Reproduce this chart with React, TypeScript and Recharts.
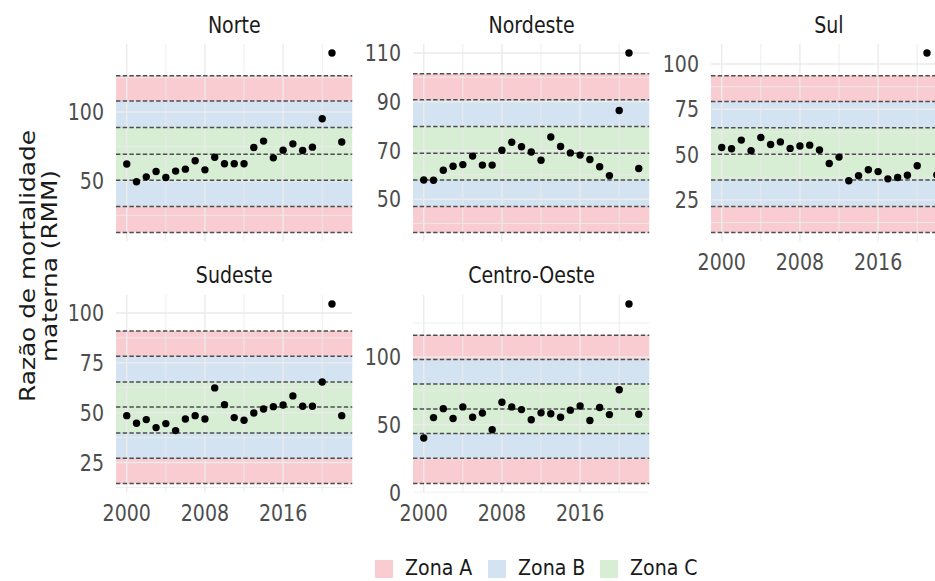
import React from 'react';
import { ScatterChart, Scatter, XAxis, YAxis, ReferenceArea, ReferenceLine } from 'recharts';

// ---------- data ----------
const years = [2000, 2001, 2002, 2003, 2004, 2005, 2006, 2007, 2008, 2009, 2010, 2011, 2012, 2013, 2014, 2015, 2016, 2017, 2018, 2019, 2020, 2021, 2022];

const norteRMM = [62.2, 49.3, 52.9, 56.8, 52.4, 57.1, 58.5, 64.6, 58.0, 67.2, 62.4, 62.4, 62.4, 74.2, 78.9, 66.7, 72.3, 76.9, 72.1, 74.5, 95.1, 142.9, 78.2];
const nordesteRMM = [57.9, 57.8, 61.9, 63.5, 64.2, 67.7, 64.0, 64.0, 70.1, 73.4, 71.5, 69.4, 66.0, 75.5, 71.6, 69.0, 68.1, 66.3, 63.3, 59.7, 86.4, 110.0, 62.6];
const sulRMM = [53.9, 53.2, 58.0, 52.1, 59.4, 55.6, 57.0, 53.4, 54.7, 55.2, 52.5, 45.1, 48.6, 35.5, 38.3, 41.6, 40.6, 36.6, 37.3, 38.6, 43.8, 106.1, 38.8];
const sudesteRMM = [48.5, 44.7, 46.5, 42.5, 44.5, 41.0, 46.8, 48.5, 46.8, 62.4, 54.0, 47.5, 46.2, 49.8, 51.8, 53.0, 53.8, 58.4, 53.2, 53.2, 65.4, 104.5, 48.5];
const centroOesteRMM = [40.3, 55.3, 61.9, 54.6, 63.2, 55.6, 58.6, 46.3, 66.6, 63.2, 61.2, 53.7, 58.8, 58.1, 55.6, 60.8, 63.9, 53.1, 62.7, 57.5, 75.8, 139.1, 57.8];

// control limits (mean -3sd ... mean +3sd)
const norteLimits = [12.4, 31.3, 50.5, 69.4, 88.8, 108.0, 126.4];
const nordesteLimits = [36.3, 47.0, 57.9, 68.9, 79.8, 90.8, 101.5];
const sulLimits = [6.9, 21.3, 35.9, 50.2, 64.8, 79.3, 93.5];
const sudesteLimits = [14.4, 27.1, 39.8, 52.8, 65.4, 78.3, 91.0];
const centroOesteLimits = [6.6, 25.3, 43.6, 61.7, 80.0, 98.1, 116.1];

const xMajorTicks = [2000, 2008, 2016];
const xMinorTicks = [2004, 2012, 2020];

const norteYMajor = [50, 100];
const norteYMinor = [25, 75, 125];
const nordesteYMajor = [50, 70, 90, 110];
const nordesteYMinor = [40, 60, 80, 100];
const sulYMajor = [25, 50, 75, 100];
const sulYMinor = [12.5, 37.5, 62.5, 87.5];
const sudesteYMajor = [25, 50, 75, 100];
const sudesteYMinor = [12.5, 37.5, 62.5, 87.5];
const centroOesteYMajor = [0, 50, 100];
const centroOesteYMinor = [25, 75, 125];

const regionNames = ['Norte', 'Nordeste', 'Sul', 'Sudeste', 'Centro-Oeste'];
const zoneLabels = ['Zona A', 'Zona B', 'Zona C'];
const yTitleLines = ['Razão de mortalidade', 'materna (RMM)'];

// ---------- style ----------
const FONT = '"DejaVu Sans", sans-serif';
const SY = 1.18;
const PW = 236.5;
const PH = 197.6;
const YW = 60;
const TOP = 10;
const XH = 40;
const RM = 4;
const zoneColors = ['#E33347', '#538FC7', '#5FB753'];
const ZONE_OPACITY = 0.25;

const panelPos = [
  { left: 116, top: 44.3, showX: false },
  { left: 413.3, top: 44.3, showX: false },
  { left: 710.7, top: 44.3, showX: true },
  { left: 116, top: 294.6, showX: true },
  { left: 413.3, top: 294.6, showX: true },
];

const panelData = [
  { values: norteRMM, limits: norteLimits, yMajor: norteYMajor, yMinor: norteYMinor },
  { values: nordesteRMM, limits: nordesteLimits, yMajor: nordesteYMajor, yMinor: nordesteYMinor },
  { values: sulRMM, limits: sulLimits, yMajor: sulYMajor, yMinor: sulYMinor },
  { values: sudesteRMM, limits: sudesteLimits, yMajor: sudesteYMajor, yMinor: sudesteYMinor },
  { values: centroOesteRMM, limits: centroOesteLimits, yMajor: centroOesteYMajor, yMinor: centroOesteYMinor },
];

const Dot = (p: any) => <circle cx={p.cx} cy={p.cy} r={3.7} fill="#000" />;

function Panel({ values, limits, yMajor, yMinor, left, top, showX }: any) {
  const data = years.map((yr, i) => ({ x: yr, y: values[i] }));
  const all = [...values, ...limits];
  const mn = Math.min(...all);
  const mx = Math.max(...all);
  const pad = 0.05 * (mx - mn);
  const yDomain = [mn - pad, mx + pad];
  const x0 = years[0];
  const x1 = years[years.length - 1];
  const xpad = 0.05 * (x1 - x0);
  const xDomain = [x0 - xpad, x1 + xpad];
  const yTicks = [...yMajor, ...yMinor].sort((a: number, b: number) => a - b);
  const xTicks = [...xMajorTicks, ...xMinorTicks].sort((a, b) => a - b);
  const W = YW + PW + RM;
  const H = TOP + PH + (showX ? XH : 0);
  const L = limits;
  const bands = [
    [L[0], L[1], 0], [L[5], L[6], 0],
    [L[1], L[2], 1], [L[4], L[5], 1],
    [L[2], L[4], 2],
  ];
  const xTick = (p: any) =>
    xMajorTicks.includes(p.payload.value) ? (
      <text transform={`translate(${p.x},${p.y + 20}) scale(1,${SY})`} y={6.9} textAnchor="middle" fontSize={19} fill="#4D4D4D" fontFamily={FONT}>
        {p.payload.value}
      </text>
    ) : <g />;
  const yTick = (p: any) =>
    yMajor.includes(p.payload.value) ? (
      <text transform={`translate(${p.x - 12},${p.y}) scale(1,${SY})`} y={6.9} textAnchor="end" fontSize={19} fill="#4D4D4D" fontFamily={FONT}>
        {p.payload.value}
      </text>
    ) : <g />;
  return (
    <div style={{ position: 'absolute', left: left - YW, top: top - TOP, width: W, height: H }}>
      <ScatterChart width={W} height={H} margin={{ top: TOP, right: RM, bottom: 0, left: 0 }} style={{ overflow: 'visible' }}>
        <XAxis type="number" dataKey="x" domain={xDomain} ticks={xTicks} interval={0} hide={!showX} height={XH}
          axisLine={false} tickLine={false} tickSize={0} tickMargin={0} tick={xTick} allowDataOverflow />
        <YAxis type="number" dataKey="y" domain={yDomain} ticks={yTicks} interval={0} width={YW}
          axisLine={false} tickLine={false} tickSize={0} tickMargin={0} tick={yTick} allowDataOverflow />
        {bands.map((b, i) => (
          <ReferenceArea key={'b' + i} y1={b[0]} y2={b[1]} fill={zoneColors[b[2]]} fillOpacity={ZONE_OPACITY} stroke="none" ifOverflow="hidden" />
        ))}
        {yTicks.map((t: number) => (
          <ReferenceLine key={'gy' + t} y={t} stroke="#EBEBEB" strokeWidth={yMajor.includes(t) ? 1.4 : 0.9} ifOverflow="hidden" />
        ))}
        {xTicks.map((t) => (
          <ReferenceLine key={'gx' + t} x={t} stroke="#EBEBEB" strokeWidth={xMajorTicks.includes(t) ? 1.4 : 0.9} ifOverflow="hidden" />
        ))}
        {L.map((v: number, i: number) => (
          <ReferenceLine key={'d' + i} y={v} stroke="#4D4D4D" strokeWidth={1.5} strokeDasharray="4.4 2.3" ifOverflow="hidden" />
        ))}
        <Scatter data={data} isAnimationActive={false} shape={Dot} />
      </ScatterChart>
    </div>
  );
}

const legendKeyX = [375, 488, 600];

export default function App() {
  return (
    <div style={{ position: 'absolute', left: 0, top: 0, width: 935, height: 581, overflow: 'hidden', background: '#fff', fontFamily: FONT }}>
      {panelData.map((d, i) => (
        <Panel key={regionNames[i]} {...d} {...panelPos[i]} />
      ))}
      <svg width={935} height={581} style={{ position: 'absolute', left: 0, top: 0, pointerEvents: 'none' }}>
        {regionNames.map((n, i) => (
          <text key={n} transform={`translate(${panelPos[i].left + PW / 2},${panelPos[i].top - 11.6}) scale(1,${SY})`}
            textAnchor="middle" fontSize={19} fill="#1A1A1A" fontFamily={FONT}>{n}</text>
        ))}
        {yTitleLines.map((t, i) => (
          <text key={t} transform={`translate(${35 + i * 21.5},266) rotate(-90) scale(${SY},1)`}
            textAnchor="middle" fontSize={21} fill="#1A1A1A" fontFamily={FONT}>{t}</text>
        ))}
        {zoneLabels.map((z, i) => (
          <g key={z}>
            <rect x={legendKeyX[i]} y={560} width={18} height={18} fill={zoneColors[i]} fillOpacity={ZONE_OPACITY} />
            <text transform={`translate(${legendKeyX[i] + 30},575.3) scale(1,1.1)`} fontSize={19} fill="#1A1A1A" fontFamily={FONT}>{z}</text>
          </g>
        ))}
      </svg>
    </div>
  );
}
